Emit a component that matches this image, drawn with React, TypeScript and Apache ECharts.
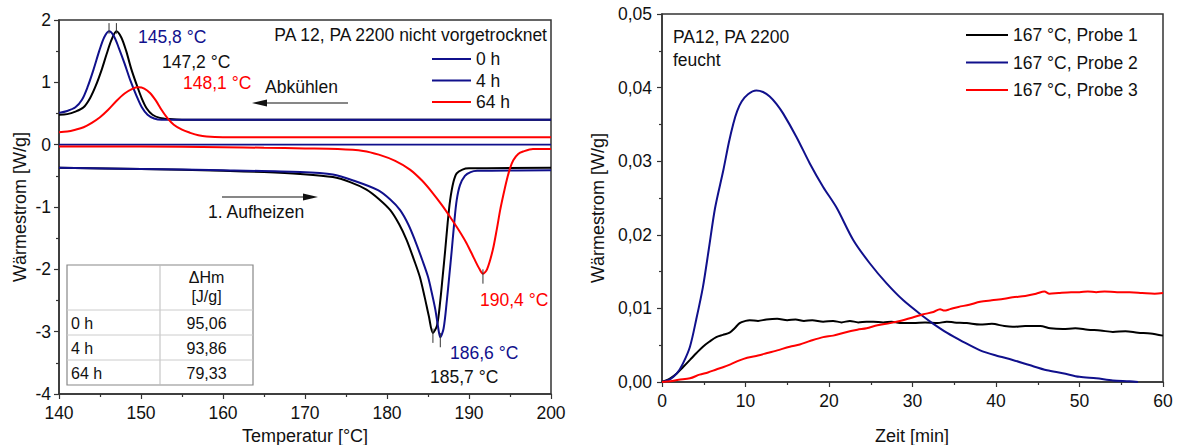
import React, { useEffect, useRef } from "react";
import * as echarts from "echarts";

// ---------- Left chart (DSC) ----------
const coolBlack: [number, number][] = [
  [140, 0.48], [141, 0.49], [142, 0.53], [143, 0.6], [143.8, 0.75], [144.5, 0.95], [145.2, 1.2], [145.8, 1.45],
  [146.4, 1.68], [147.0, 1.82], [147.6, 1.72], [148.2, 1.5], [148.8, 1.22], [149.5, 0.95], [150.1, 0.74],
  [150.7, 0.58], [151.4, 0.48], [152.3, 0.43], [153.5, 0.41], [155, 0.4], [200, 0.4],
];
const coolBlue: [number, number][] = [
  [140, 0.51], [141, 0.54], [142, 0.6], [142.8, 0.72], [143.5, 0.93], [144.2, 1.2], [144.9, 1.5], [145.5, 1.72],
  [146.1, 1.82], [146.7, 1.74], [147.3, 1.55], [148, 1.3], [148.7, 1.03], [149.4, 0.8], [150.1, 0.6],
  [150.8, 0.48], [151.6, 0.42], [152.5, 0.4], [200, 0.4],
];
const coolRed: [number, number][] = [
  [140, 0.2], [141, 0.21], [142, 0.24], [143, 0.28], [144, 0.35], [145, 0.44], [146, 0.56], [147, 0.7],
  [148, 0.82], [149, 0.9], [149.7, 0.92], [150.4, 0.9], [151.1, 0.83], [151.8, 0.71], [152.5, 0.56],
  [153.2, 0.43], [154, 0.32], [155, 0.24], [156, 0.19], [157, 0.15], [158, 0.13], [160, 0.12], [200, 0.12],
];
const heatBlack: [number, number][] = [
  [140, -0.37], [150, -0.39], [160, -0.42], [165, -0.44], [169.4, -0.47], [173.4, -0.52], [175.5, -0.6],
  [177.5, -0.72], [179, -0.87], [180.4, -1.05], [181.5, -1.28], [182.4, -1.53], [183.3, -1.85], [184, -2.12],
  [184.6, -2.45], [185.1, -2.75], [185.6, -3.02], [186.1, -2.9], [186.5, -2.5], [186.8, -2.1], [187.1, -1.69],
  [187.4, -1.25], [187.7, -0.89], [188.1, -0.6], [188.5, -0.46], [189.2, -0.4], [190, -0.38], [200, -0.37],
];
const heatBlue: [number, number][] = [
  [140, -0.37], [150, -0.39], [160, -0.41], [169.4, -0.44], [173.4, -0.48], [176, -0.58], [178.9, -0.73],
  [180.4, -0.88], [181.6, -1.05], [182.6, -1.28], [183.4, -1.53], [184.3, -1.85], [185.0, -2.12], [185.5, -2.4],
  [185.9, -2.65], [186.2, -2.9], [186.5, -3.09], [186.9, -2.95], [187.3, -2.5], [187.6, -2.1], [187.9, -1.69],
  [188.2, -1.25], [188.5, -0.89], [188.9, -0.65], [189.5, -0.5], [190.2, -0.44], [191, -0.42], [200, -0.41],
];
const heatRed: [number, number][] = [
  [140, -0.03], [150, -0.03], [160, -0.04], [165, -0.05], [170, -0.06], [174, -0.07], [177.1, -0.1],
  [179, -0.16], [181, -0.26], [182.8, -0.4], [184.3, -0.58], [185.6, -0.78], [186.7, -0.97], [187.7, -1.16],
  [188.8, -1.38], [189.7, -1.58], [190.6, -1.82], [191.3, -2.0], [191.7, -2.07], [192.2, -2.0], [192.9, -1.69],
  [193.4, -1.35], [193.8, -1.05], [194.2, -0.8], [194.6, -0.57], [195.0, -0.38], [195.4, -0.25], [196.0, -0.15],
  [196.6, -0.11], [197.8, -0.07], [200, -0.07],
];
const zeroLine: [number, number][] = [[140, 0], [200, 0]];
const coolPeakT = [147.0, 146.1];
const coolPeakV = [1.82, 1.82];
const heatPeakT = [185.6, 186.5, 191.7];
const heatPeakV = [-3.02, -3.09, -2.07];
const leftNames = ["0 h", "4 h", "64 h"];
const tableRows = ["0 h", "4 h", "64 h"];
const tableValues = ["95,06", "93,86", "79,33"];

// ---------- Right chart (isothermal) ----------
const probe1: [number, number][] = [
  [0, 0], [0.5, 0.0002], [1, 0.0005], [1.8, 0.0012], [2.5, 0.002], [3.35, 0.003], [4.1, 0.0039], [4.9, 0.0048],
  [5.7, 0.0055], [6.5, 0.0061], [7.3, 0.0064], [8.1, 0.0067], [8.7, 0.0073], [9.3, 0.008], [10, 0.0083],
  [10.5, 0.0084], [11.5, 0.0083], [12.5, 0.0085], [13.8, 0.0086], [15, 0.0084], [16, 0.0085], [17, 0.0083],
  [18, 0.0084], [19.3, 0.0082], [20.5, 0.0083], [21.5, 0.0081], [22.5, 0.0083], [23.5, 0.0081], [24.5, 0.0082],
  [25.3, 0.0082], [26.5, 0.0081], [27.5, 0.0082], [28.5, 0.008], [30.1, 0.008], [31.5, 0.0081], [33, 0.008],
  [34.1, 0.0082], [35, 0.0081], [36.5, 0.008], [38.1, 0.0078], [39.5, 0.0079], [41, 0.0076], [42, 0.0075],
  [43.5, 0.0076], [45.3, 0.0076], [46.5, 0.0073], [48, 0.0072], [49.5, 0.0073], [51, 0.0071], [52.5, 0.007],
  [54, 0.0068], [55.5, 0.0069], [57, 0.0067], [58.5, 0.0066], [60, 0.0063],
];
const probe2: [number, number][] = [
  [0, 0], [1, 0.0004], [1.8, 0.0012], [2.5, 0.0025], [3.35, 0.0048], [4.1, 0.0085], [4.9, 0.0129], [5.6, 0.018],
  [6.35, 0.0236], [7.35, 0.0288], [8.0, 0.0325], [8.54, 0.0351], [9.0, 0.0368], [9.54, 0.0381], [10.3, 0.0391],
  [11.3, 0.0396], [12.1, 0.0394], [12.9, 0.0388], [13.7, 0.0378], [14.5, 0.0365], [16.1, 0.0333], [17.7, 0.0297],
  [19.3, 0.0265], [20.9, 0.0237], [22.9, 0.0193], [24.9, 0.0161], [26.9, 0.0134], [28.9, 0.0111], [31.3, 0.0089],
  [32.5, 0.0079], [34.1, 0.0067], [36, 0.0055], [38.1, 0.0043], [40, 0.0036], [42, 0.003], [44, 0.0023],
  [46.1, 0.0016], [48, 0.0012], [50, 0.0007], [52, 0.0005], [54, 0.0002], [56, 0.0001], [57, 0],
];
const probe3: [number, number][] = [
  [0, 0], [1, 0.0001], [2, 0.0003], [3.35, 0.0005], [4.5, 0.001], [5.5, 0.0013], [6.5, 0.0017], [7.3, 0.002],
  [8.2, 0.0024], [9.2, 0.0029], [10.2, 0.0033], [11.5, 0.0036], [12.5, 0.0039], [13.8, 0.0043], [15.3, 0.0048],
  [16.5, 0.0051], [17.8, 0.0056], [19.3, 0.0061], [20.5, 0.0063], [21.8, 0.0067], [23.4, 0.0071], [24.5, 0.0073],
  [25.8, 0.0077], [27.3, 0.008], [28.5, 0.0083], [30.1, 0.0088], [31.3, 0.0092], [32.5, 0.0095], [33.3, 0.0099],
  [33.8, 0.0097], [34.5, 0.0099], [35.5, 0.0102], [36.8, 0.0105], [38.1, 0.0109], [39.5, 0.0111], [41, 0.0113],
  [42, 0.0115], [43.5, 0.0117], [44.8, 0.012], [45.8, 0.0123], [46.4, 0.012], [47.5, 0.0121], [49, 0.0122],
  [50, 0.0122], [51, 0.0123], [52, 0.0122], [53, 0.0123], [54.5, 0.0122], [56, 0.0122], [57.5, 0.0121],
  [59, 0.012], [60, 0.0121],
];
const rightNames = ["167 °C, Probe 1", "167 °C, Probe 2", "167 °C, Probe 3"];

const BLACK = "#000000";
const BLUE = "#10108c";
const RED = "#ff0000";
const AXIS = "#333333";
const FONT = "Arial, 'Liberation Sans', Helvetica, sans-serif";
const TXT = "#111111";

function txt(text: string, x: number, y: number, color: string, size = 17.5, align = "left", rotation = 0) {
  return {
    type: "text",
    x,
    y,
    rotation,
    silent: true,
    style: {
      text,
      fill: color,
      font: `${size}px ${FONT}`,
      align,
      verticalAlign: "middle",
      textAlign: align,
      textVerticalAlign: "middle",
    },
  };
}

export default function App() {
  const ref = useRef<HTMLDivElement>(null);
  useEffect(() => {
    if (!ref.current) return;
    const chart = echarts.init(ref.current, undefined, { renderer: "svg" });

    const line = (name: string, data: [number, number][], color: string, idx: number, width = 2) => ({
      type: "line",
      name,
      data,
      xAxisIndex: idx,
      yAxisIndex: idx,
      symbol: "none",
      smooth: 0.3,
      lineStyle: { color, width },
      itemStyle: { color },
      silent: true,
    });

    const tickSeries: any[] = [];
    coolPeakT.forEach((t, i) => {
      tickSeries.push({
        type: "line", name: "cool-peak-" + i, xAxisIndex: 0, yAxisIndex: 0, symbol: "none", silent: true,
        data: [[t, coolPeakV[i] - 0.04], [t, coolPeakV[i] + 0.13]],
        lineStyle: { color: AXIS, width: 1 },
      });
    });
    heatPeakT.forEach((t, i) => {
      tickSeries.push({
        type: "line", name: "heat-peak-" + i, xAxisIndex: 0, yAxisIndex: 0, symbol: "none", silent: true,
        data: [[t, heatPeakV[i] + 0.07], [t, heatPeakV[i] - 0.16]],
        lineStyle: { color: AXIS, width: 1 },
      });
    });

    const axisCommon = {
      type: "value",
      axisLine: { show: true, onZero: false, lineStyle: { color: AXIS, width: 1.5 } },
      axisTick: { show: true, length: 5, lineStyle: { color: AXIS, width: 1.2 } },
      minorTick: { show: true, splitNumber: 2, length: 3, lineStyle: { color: AXIS, width: 1.2 } },
      splitLine: { show: false },
      minorSplitLine: { show: false },
    };
    const labelStyle = { color: TXT, fontSize: 17.5, fontFamily: FONT };

    // table graphics
    const tX0 = 67, tX1 = 253, tXc = 160, tY0 = 265, tYh = 310, rowH = 25;
    const table: any[] = [
      { type: "rect", shape: { x: tX0, y: tY0, width: tX1 - tX0, height: tYh + rowH * 3 - tY0 }, style: { fill: "#fff", stroke: "#888", lineWidth: 1.2 } },
      { type: "line", shape: { x1: tXc, y1: tY0, x2: tXc, y2: tYh + rowH * 3 }, style: { stroke: "#bbb", lineWidth: 1 } },
      txt("\u0394Hm", (tXc + tX1) / 2, 277, TXT, 16, "center"),
      txt("[J/g]", (tXc + tX1) / 2, 296, TXT, 16, "center"),
    ];
    tableRows.forEach((r, i) => {
      const y = tYh + rowH * i;
      table.push({ type: "line", shape: { x1: tX0, y1: y, x2: tX1, y2: y }, style: { stroke: "#ccc", lineWidth: 1 } });
      table.push(txt(r, tX0 + 4, y + rowH / 2 + 1, TXT, 16, "left"));
      table.push(txt(tableValues[i], (tXc + tX1) / 2, y + rowH / 2 + 1, TXT, 16, "center"));
    });

    const legendText = { color: TXT, fontSize: 17.5, fontFamily: FONT, lineHeight: 17 };

    const option: any = {
      animation: false,
      backgroundColor: "#ffffff",
      textStyle: { fontFamily: FONT },
      grid: [
        { left: 59, top: 20, width: 492, height: 374, show: true, borderColor: AXIS, borderWidth: 1.5, backgroundColor: "transparent" },
        { left: 662, top: 14, width: 501, height: 368, show: true, borderColor: AXIS, borderWidth: 1.5, backgroundColor: "transparent" },
      ],
      xAxis: [
        { ...axisCommon, gridIndex: 0, min: 140, max: 200, interval: 10, axisLabel: { ...labelStyle, margin: 10 } },
        { ...axisCommon, gridIndex: 1, min: 0, max: 60, interval: 10, axisLabel: { ...labelStyle, margin: 10 } },
      ],
      yAxis: [
        {
          ...axisCommon, gridIndex: 0, min: -4, max: 2, interval: 1,
          axisLabel: { ...labelStyle, margin: 8, formatter: (v: number) => String(v).replace(".", ",") },
        },
        {
          ...axisCommon, gridIndex: 1, min: 0, max: 0.05, interval: 0.01,
          axisLabel: { ...labelStyle, margin: 10, formatter: (v: number) => v.toFixed(2).replace(".", ",") },
        },
      ],
      legend: [
        {
          data: leftNames.map((n) => ({ name: n, icon: "rect" })), orient: "vertical", left: 432, top: 50, padding: 0,
          itemWidth: 39, itemHeight: 2, itemGap: 3.5, textStyle: legendText, selectedMode: false,
        },
        {
          data: rightNames.map((n) => ({ name: n, icon: "rect" })), orient: "vertical", left: 966, top: 26, padding: 0,
          itemWidth: 42, itemHeight: 2, itemGap: 9.5, textStyle: legendText, selectedMode: false,
        },
      ],
      series: [
        line("0 h", zeroLine, BLUE, 0, 1.8),
        line("0 h", heatBlack, BLACK, 0),
        line("4 h", heatBlue, BLUE, 0),
        line("64 h", heatRed, RED, 0),
        line("0 h", coolBlack, BLACK, 0),
        line("4 h", coolBlue, BLUE, 0),
        line("64 h", coolRed, RED, 0),
        ...tickSeries,
        line(rightNames[0], probe1, BLACK, 1),
        line(rightNames[1], probe2, BLUE, 1),
        line(rightNames[2], probe3, RED, 1),
      ],
      graphic: [
        // left chart annotations
        txt("PA 12, PA 2200 nicht vorgetrocknet", 547, 35, TXT, 17.5, "right"),
        txt("145,8 °C", 138, 37, BLUE),
        txt("147,2 °C", 162, 62, TXT),
        txt("148,1 °C", 183, 83, RED),
        txt("Abkühlen", 265, 87, TXT),
        { type: "line", shape: { x1: 348, y1: 103, x2: 262, y2: 103 }, style: { stroke: TXT, lineWidth: 1.2 } },
        { type: "polygon", shape: { points: [[252, 103], [267, 99.5], [267, 106.5]] }, style: { fill: TXT } },
        txt("1. Aufheizen", 208, 212, TXT),
        { type: "line", shape: { x1: 222, y1: 197, x2: 308, y2: 197 }, style: { stroke: TXT, lineWidth: 1.2 } },
        { type: "polygon", shape: { points: [[318, 197], [303, 193.5], [303, 200.5]] }, style: { fill: TXT } },
        txt("190,4 °C", 480, 300, RED),
        txt("186,6 °C", 450, 353, BLUE),
        txt("185,7 °C", 430, 377, TXT),
        ...table,
        // axis titles
        txt("Wärmestrom [W/g]", 20, 207, TXT, 18, "center", Math.PI / 2),
        txt("Temperatur [°C]", 305, 436, TXT, 18, "center"),
        // right chart annotations
        txt("PA12, PA 2200", 673, 37, TXT),
        txt("feucht", 673, 60, TXT),
        txt("Wärmestrom [W/g]", 598, 208, TXT, 18, "center", Math.PI / 2),
        txt("Zeit [min]", 912, 436, TXT, 18, "center"),
      ],
    };
    chart.setOption(option);
    return () => chart.dispose();
  }, []);

  return (
    <div
      ref={ref}
      style={{ position: "absolute", left: 0, top: 0, width: 1179, height: 445, background: "#fff" }}
    />
  );
}
